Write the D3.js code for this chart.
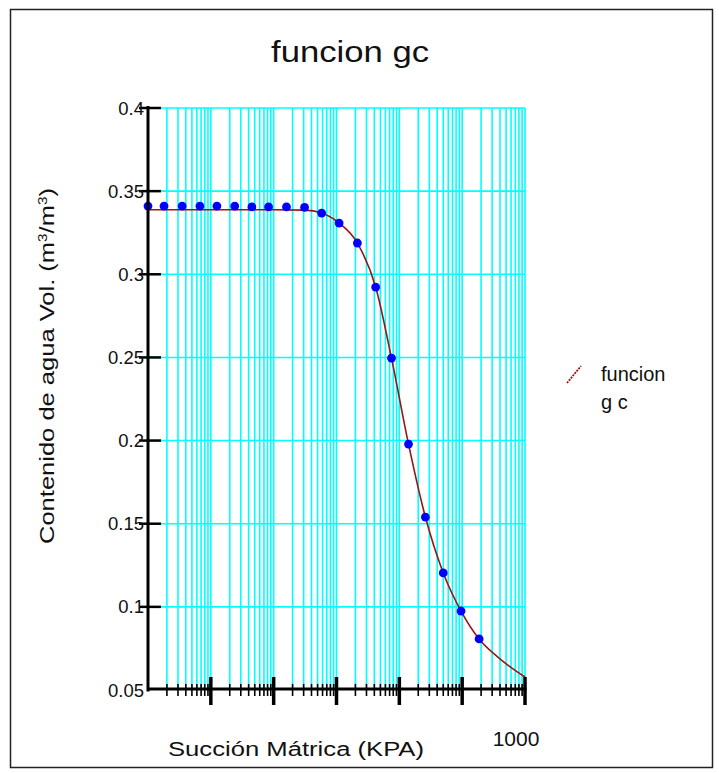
<!DOCTYPE html>
<html>
<head>
<meta charset="utf-8">
<script src="https://cdn.jsdelivr.net/npm/d3@7"></script>
<style>
  html, body { margin: 0; padding: 0; background: #fff; }
  svg { display: block; }
  text { font-family: "Liberation Sans", Arial, sans-serif; fill: #111; }
</style>
</head>
<body>
<svg id="chart" width="719" height="773"></svg>
<script>
// Measured points: matric suction (kPa) vs volumetric water content
const suction = [0.001, 0.0018, 0.0035, 0.0067, 0.0125, 0.024, 0.045, 0.083, 0.16, 0.31,
                 0.58, 1.1, 2.15, 4.2, 7.5, 14, 26, 50, 96, 186];
const theta   = [0.341, 0.341, 0.341, 0.341, 0.341, 0.341, 0.3405, 0.3405, 0.3405, 0.3402,
                 0.3368, 0.3308, 0.3188, 0.2923, 0.2496, 0.1979, 0.154, 0.1204, 0.0975, 0.0807];

// Fitted "funcion gc" curve
const fitSuction = [0.001, 0.1, 0.31, 0.58, 1.1, 2.15, 4.2, 7.5, 14, 26, 50, 96, 186, 386, 1000];
const fitTheta   = [0.3388, 0.3388, 0.3386, 0.3368, 0.3308, 0.3188, 0.2923, 0.2496, 0.1979,
                    0.154, 0.1204, 0.0975, 0.0807, 0.0692, 0.0578];

const yTicks = [0.05, 0.1, 0.15, 0.2, 0.25, 0.3, 0.35, 0.4];
const yTickLabels = ["0.05", "0.1", "0.15", "0.2", "0.25", "0.3", "0.35", "0.4"];
const xTickLabels = [{ value: 1000, label: "1000" }];

const titleText = "funcion gc";
const xTitle = "Succión Mátrica (KPA)";
const legendLines = ["funcion", "g c"];

const svg = d3.select("#chart");

// frame
svg.append("rect")
  .attr("x", 10.5).attr("y", 9.5)
  .attr("width", 702).attr("height", 758)
  .attr("fill", "none").attr("stroke", "#222").attr("stroke-width", 1.5);

const x = d3.scaleLog().domain([0.001, 1000]).range([148, 525]);
const y = d3.scaleLinear().domain([0.05, 0.4]).range([690, 108]);

const xTicksAll = x.ticks();
const isDecade = d => Number.isInteger(Math.round(Math.log10(d) * 1000) / 1000);

// grid
const grid = svg.append("g").attr("stroke", "#00ffff").attr("stroke-width", 1.6);
grid.selectAll("line.v")
  .data(xTicksAll.filter(d => d > 0.001))
  .join("line")
  .attr("x1", d => x(d)).attr("x2", d => x(d))
  .attr("y1", y(0.4)).attr("y2", y(0.05));
grid.selectAll("line.h")
  .data(yTicks.filter(d => d > 0.05))
  .join("line")
  .attr("x1", x(0.001)).attr("x2", x(1000))
  .attr("y1", d => y(d)).attr("y2", d => y(d));

// fitted curve
const line = d3.line()
  .x((d, i) => x(fitSuction[i]))
  .y(d => y(d))
  .curve(d3.curveMonotoneX);
svg.append("path")
  .attr("d", line(fitTheta))
  .attr("fill", "none")
  .attr("stroke", "#9b1414")
  .attr("stroke-width", 1.6);

// measured points
svg.append("g").selectAll("circle")
  .data(suction)
  .join("circle")
  .attr("cx", d => x(d))
  .attr("cy", (d, i) => y(theta[i]))
  .attr("r", 4.4)
  .attr("fill", "#0000ff");

// y axis
const yAxis = svg.append("g").attr("stroke", "#000");
yAxis.append("line")
  .attr("x1", 148).attr("x2", 148)
  .attr("y1", y(0.4) - 2).attr("y2", y(0.05) + 1.5)
  .attr("stroke-width", 3);
yAxis.selectAll("line.t")
  .data(yTicks.filter(d => d > 0.05))
  .join("line")
  .attr("x1", 139).attr("x2", 161)
  .attr("y1", d => y(d)).attr("y2", d => y(d))
  .attr("stroke-width", 2.5);
svg.append("g").selectAll("text")
  .data(yTicks)
  .join("text")
  .attr("x", 144)
  .attr("y", d => y(d) + 6.5)
  .attr("text-anchor", "end")
  .attr("font-size", 18.5)
  .text((d, i) => yTickLabels[i]);

// x axis
const xAxis = svg.append("g").attr("stroke", "#000");
xAxis.append("line")
  .attr("x1", 147).attr("x2", x(1000) + 1.5)
  .attr("y1", 689).attr("y2", 689)
  .attr("stroke-width", 3);
xAxis.selectAll("line.t")
  .data(xTicksAll.filter(d => d > 0.001))
  .join("line")
  .attr("x1", d => x(d)).attr("x2", d => x(d))
  .attr("y1", d => isDecade(d) ? 677 : 684)
  .attr("y2", d => isDecade(d) ? 705 : 696)
  .attr("stroke-width", d => isDecade(d) ? 3.5 : 1.6);
svg.append("g").selectAll("text")
  .data(xTickLabels)
  .join("text")
  .attr("x", d => x(d.value) - 9)
  .attr("y", 746)
  .attr("text-anchor", "middle")
  .attr("font-size", 21)
  .text(d => d.label);

// titles
svg.append("text")
  .attr("x", 350).attr("y", 62)
  .attr("text-anchor", "middle")
  .attr("font-size", 30)
  .attr("textLength", 158).attr("lengthAdjust", "spacingAndGlyphs")
  .text(titleText);

svg.append("text")
  .attr("x", 296).attr("y", 756)
  .attr("text-anchor", "middle")
  .attr("font-size", 20)
  .attr("textLength", 256).attr("lengthAdjust", "spacingAndGlyphs")
  .text(xTitle);

const yTitle = svg.append("text")
  .attr("transform", "translate(54,366) rotate(-90)")
  .attr("text-anchor", "middle")
  .attr("font-size", 20)
  .attr("textLength", 356).attr("lengthAdjust", "spacingAndGlyphs");
yTitle.append("tspan").text("Contenido de agua Vol. (m");
yTitle.append("tspan").attr("font-size", 12).attr("dy", -7).text("3");
yTitle.append("tspan").attr("dy", 7).text("/m");
yTitle.append("tspan").attr("font-size", 12).attr("dy", -7).text("3");
yTitle.append("tspan").attr("dy", 7).text(")");

// legend
svg.append("line")
  .attr("x1", 567).attr("y1", 383).attr("x2", 581).attr("y2", 366)
  .attr("stroke", "#9b1414").attr("stroke-width", 1.8)
  .attr("stroke-dasharray", "2,1");
svg.append("g").selectAll("text")
  .data(legendLines)
  .join("text")
  .attr("x", 601)
  .attr("y", (d, i) => 381 + i * 28)
  .attr("font-size", 20)
  .text(d => d);
</script>
</body>
</html>
